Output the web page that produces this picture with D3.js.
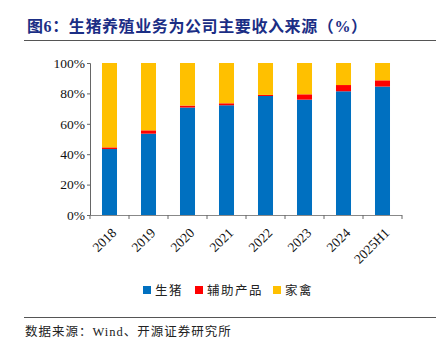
<!DOCTYPE html>
<html>
<head>
<meta charset="utf-8">
<script src="https://cdn.jsdelivr.net/npm/d3@7"></script>
<style>
  body { margin: 0; background: #fff; }
  svg { display: block; }
</style>
</head>
<body>
<div id="chart"></div>
<script>
// Data
var years = ["2018", "2019", "2020", "2021", "2022", "2023", "2024", "2025H1"];
var pig = [43.4, 53.5, 70.7, 72.2, 78.3, 75.9, 81.4, 84.5];
var aux = [1.1, 2.2, 1.3, 1.3, 0.7, 3.5, 4.1, 4.1];
var poultry = [55.5, 44.3, 28.0, 26.5, 21.0, 20.6, 14.5, 11.4];
var seriesNames = ["生猪", "辅助产品", "家禽"];
var colors = ["#0070C0", "#FF0000", "#FFC000"];
var yTicks = [0, 20, 40, 60, 80, 100];

var width = 445,
    height = 347;

var serif = "'Times New Roman', 'Liberation Serif', 'Noto Sans CJK SC', serif";

var svg = d3.select("#chart").append("svg")
  .attr("width", width)
  .attr("height", height);

// title
svg.append("text")
  .attr("x", 27)
  .attr("y", 32)
  .attr("fill", "#1b2e85")
  .attr("font-family", serif)
  .attr("font-weight", "bold")
  .attr("font-size", 16)
  .attr("letter-spacing", 0.6)
  .text("图6：生猪养殖业务为公司主要收入来源（%）");

svg.append("line")
  .attr("x1", 24).attr("x2", 436)
  .attr("y1", 40.5).attr("y2", 40.5)
  .attr("stroke", "#555").attr("stroke-width", 1.2);

var plot = { left: 90, right: 402, top: 63, bottom: 215 };

var x = d3.scaleBand()
  .domain(years)
  .range([plot.left, plot.right])
  .paddingInner(0.615)
  .paddingOuter(0.3075);

var y = d3.scaleLinear()
  .domain([0, 100])
  .range([plot.bottom, plot.top]);

var table = years.map(function(yr, i) {
  return { year: yr, pig: pig[i], aux: aux[i], poultry: poultry[i] };
});

var stack = d3.stack().keys(["pig", "aux", "poultry"]);
var layers = stack(table);

svg.selectAll("g.layer")
  .data(layers)
  .enter().append("g")
  .attr("class", "layer")
  .attr("fill", function(d, i) { return colors[i]; })
  .selectAll("rect")
  .data(function(d) { return d; })
  .enter().append("rect")
  .attr("x", function(d) { return x(d.data.year); })
  .attr("width", x.bandwidth())
  .attr("y", function(d) { return y(d[1]); })
  .attr("height", function(d) { return y(d[0]) - y(d[1]); });

// y axis
var yAxis = svg.append("g")
  .attr("transform", "translate(" + plot.left + ",0)")
  .call(d3.axisLeft(y).tickValues(yTicks).tickSize(3).tickFormat(function(d) { return d + "%"; }));
yAxis.select(".domain").attr("stroke", "#666");
yAxis.selectAll(".tick line").attr("stroke", "#666");
yAxis.selectAll("text")
  .attr("font-family", serif)
  .attr("font-size", 13.5)
  .attr("fill", "#111")
  .attr("x", -5);

// x axis: ticks at category boundaries
var step = x.step();
var bounds = d3.range(years.length + 1).map(function(i) { return plot.left + i * step; });
var xg = svg.append("g");
xg.append("line")
  .attr("x1", plot.left).attr("x2", plot.right)
  .attr("y1", plot.bottom + 0.5).attr("y2", plot.bottom + 0.5)
  .attr("stroke", "#888");
xg.selectAll("line.tk")
  .data(bounds)
  .enter().append("line")
  .attr("class", "tk")
  .attr("x1", function(d) { return d; }).attr("x2", function(d) { return d; })
  .attr("y1", plot.bottom).attr("y2", plot.bottom + 4)
  .attr("stroke", "#666");

xg.selectAll("text")
  .data(years)
  .enter().append("text")
  .attr("transform", function(d) {
    return "translate(" + (x(d) + x.bandwidth() / 2 + 1) + "," + (plot.bottom + 12) + ") rotate(-45)";
  })
  .attr("text-anchor", "end")
  .attr("dy", "0.7em")
  .attr("font-family", serif)
  .attr("font-size", 13.5)
  .attr("fill", "#111")
  .text(function(d) { return d; });

// legend
var legendX = [143, 195, 273];
var lg = svg.append("g");
seriesNames.forEach(function(name, i) {
  lg.append("rect")
    .attr("x", legendX[i]).attr("y", 286)
    .attr("width", 8).attr("height", 8)
    .attr("fill", colors[i]);
  lg.append("text")
    .attr("x", legendX[i] + 12).attr("y", 295)
    .attr("font-family", serif)
    .attr("font-size", 12.5)
    .attr("letter-spacing", 1.5)
    .attr("fill", "#222")
    .text(name);
});

// footer
svg.append("line")
  .attr("x1", 24).attr("x2", 436)
  .attr("y1", 317.5).attr("y2", 317.5)
  .attr("stroke", "#555").attr("stroke-width", 1.2);

svg.append("text")
  .attr("x", 25).attr("y", 336)
  .attr("font-family", serif)
  .attr("font-size", 12.5)
  .attr("letter-spacing", 1)
  .attr("fill", "#222")
  .text("数据来源：Wind、开源证券研究所");
</script>
</body>
</html>
